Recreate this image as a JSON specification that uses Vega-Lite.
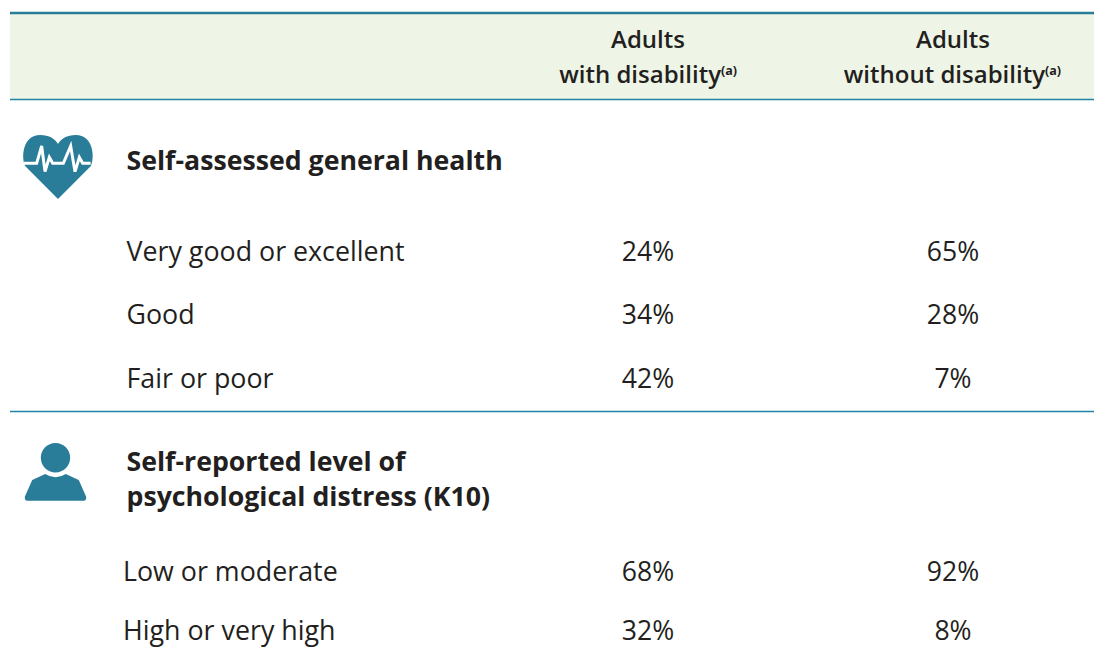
{"$schema":"https://vega.github.io/schema/vega-lite/v6.json","width":1094,"height":656,"padding":0,"autosize":{"type":"fit","contains":"padding"},"background":"#ffffff","config":{"view":{"stroke":null}},
"data":{"values":[
{"kind":"band","col":0,"col2":9,"row":0,"row2":3},
{"kind":"thick","col":0,"col2":9,"row":0},
{"kind":"thin","col":0,"col2":9,"row":3},
{"kind":"thin","col":0,"col2":9,"row":9},
{"kind":"heart","col":1,"row":5},
{"kind":"person","col":2,"row":11},
{"kind":"header","col":5,"row":1,"text":"Adults"},
{"kind":"header","col":7,"row":1,"text":"Adults"},
{"kind":"headerEnd","col":6,"row":2,"text":"with disability"},
{"kind":"headerEnd","col":8,"row":2,"text":"without disability"},
{"kind":"note","col":6,"row":2,"text":"(a)"},
{"kind":"note","col":8,"row":2,"text":"(a)"},
{"kind":"heading","col":4,"row":4,"text":"Self-assessed general health"},
{"kind":"heading","col":4,"row":10,"text":"Self-reported level of"},
{"kind":"heading","col":4,"row":12,"text":"psychological distress (K10)"},
{"kind":"label","col":4,"row":6,"text":"Very good or excellent"},
{"kind":"label","col":4,"row":7,"text":"Good"},
{"kind":"label","col":4,"row":8,"text":"Fair or poor"},
{"kind":"label","col":3,"row":13,"text":"Low or moderate"},
{"kind":"label","col":3,"row":14,"text":"High or very high"},
{"kind":"value","col":5,"row":6,"text":"24%"},
{"kind":"value","col":7,"row":6,"text":"65%"},
{"kind":"value","col":5,"row":7,"text":"34%"},
{"kind":"value","col":7,"row":7,"text":"28%"},
{"kind":"value","col":5,"row":8,"text":"42%"},
{"kind":"value","col":7,"row":8,"text":"7%"},
{"kind":"value","col":5,"row":13,"text":"68%"},
{"kind":"value","col":7,"row":13,"text":"92%"},
{"kind":"value","col":5,"row":14,"text":"32%"},
{"kind":"value","col":7,"row":14,"text":"8%"}
]},
"encoding":{
"x":{"field":"col","type":"quantitative","axis":null,"scale":{"domain":[0,1,2,3,4,5,6,7,8,9],"range":[10,58,55.5,123,126.5,648,721,953,1045,1094],"clamp":false,"nice":false,"zero":false}},
"y":{"field":"row","type":"quantitative","axis":null,"scale":{"domain":[0,1,2,3,4,5,6,7,8,9,10,11,12,13,14],"range":[13,41,76,99.5,162,167,253,316,380,411.5,463,472,498,573,632],"nice":false,"zero":false}}
},
"layer":[
{"transform":[{"filter":"datum.kind==='band'"}],"mark":{"type":"rect","color":"#eef5e6"},"encoding":{"x2":{"field":"col2"},"y2":{"field":"row2"}}},
{"transform":[{"filter":"datum.kind==='thick'"}],"mark":{"type":"rule","color":"#2a7d99","strokeWidth":2.5},"encoding":{"x2":{"field":"col2"}}},
{"transform":[{"filter":"datum.kind==='thin'"}],"mark":{"type":"rule","color":"#1f84a6","strokeWidth":1.4},"encoding":{"x2":{"field":"col2"}}},
{"transform":[{"filter":"datum.kind==='heart'"}],"mark":{"type":"point","filled":true,"opacity":1,"color":"#2a7d99","size":4900,"shape":"M0 .914 L-.94 -.03 C-1.06 -.3 -1 -.914 -.51 -.914 C-.25 -.914 -.08 -.8 0 -.657 C.08 -.8 .25 -.914 .51 -.914 C1 -.914 1.06 -.3 .94 -.03 Z"}},
{"transform":[{"filter":"datum.kind==='heart'"}],"mark":{"type":"point","filled":false,"opacity":1,"stroke":"#ffffff","fill":null,"strokeWidth":3,"size":4900,"shape":"M-.971 -.105 L-.61 -.105 L-.467 -.6 L-.371 .133 L-.248 -.276 L-.152 -.105 L.152 -.105 L.362 -.6 L.486 .133 L.61 -.276 L.705 -.105 L.933 -.105"}},
{"transform":[{"filter":"datum.kind==='person'"}],"mark":{"type":"point","filled":true,"opacity":1,"color":"#2a7d99","size":3844,"shape":"M-.474 -.461 A.474 .474 0 1 1 .474 -.461 A.474 .474 0 1 1 -.474 -.461 Z M-.33 .065 Q0 .28 .33 .065 L.75 .258 L.99 .796 Q1 .925 .91 .925 L-.91 .925 Q-1 .925 -.99 .796 L-.75 .258 Z"}},
{"transform":[{"filter":"datum.kind==='header'"}],"mark":{"type":"text","font":"Open Sans","fontSize":24,"fontWeight":600,"color":"#231f20","align":"center","baseline":"middle"},"encoding":{"text":{"field":"text"}}},
{"transform":[{"filter":"datum.kind==='headerEnd'"}],"mark":{"type":"text","font":"Open Sans","fontSize":24,"fontWeight":600,"color":"#231f20","align":"right","baseline":"middle"},"encoding":{"text":{"field":"text"}}},
{"transform":[{"filter":"datum.kind==='note'"}],"mark":{"type":"text","font":"Open Sans","fontSize":12.5,"fontWeight":700,"color":"#231f20","align":"left","baseline":"middle","dy":-5},"encoding":{"text":{"field":"text"}}},
{"transform":[{"filter":"datum.kind==='heading'"}],"mark":{"type":"text","font":"Open Sans","fontSize":26.7,"fontWeight":700,"color":"#231f20","align":"left","baseline":"middle"},"encoding":{"text":{"field":"text"}}},
{"transform":[{"filter":"datum.kind==='label'"}],"mark":{"type":"text","font":"Open Sans","fontSize":26.8,"color":"#231f20","align":"left","baseline":"middle"},"encoding":{"text":{"field":"text"}}},
{"transform":[{"filter":"datum.kind==='value'"}],"mark":{"type":"text","font":"Open Sans","fontSize":26.6,"color":"#231f20","align":"center","baseline":"middle"},"encoding":{"text":{"field":"text"}}}
]}
